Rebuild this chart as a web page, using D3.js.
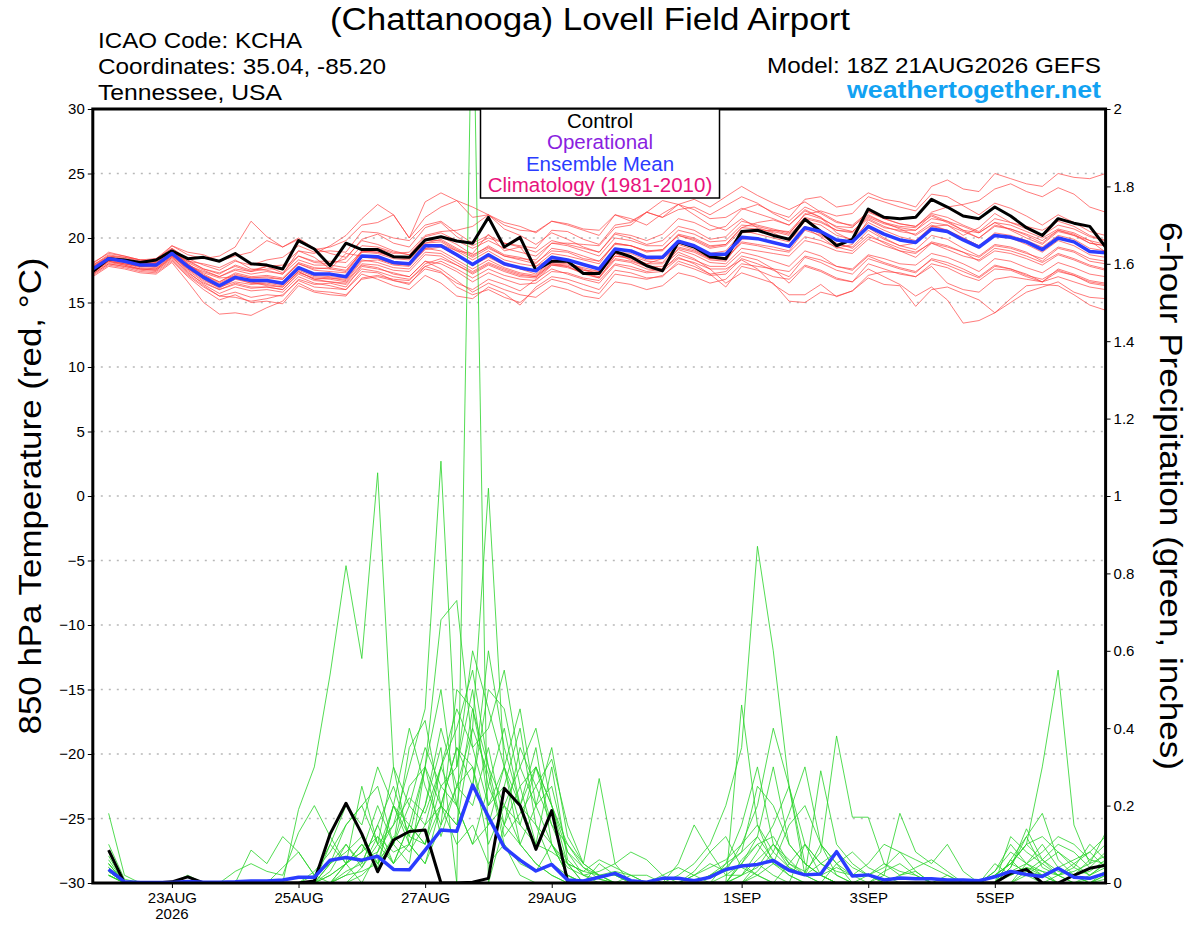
<!DOCTYPE html>
<html lang="en">
<head>
<meta charset="UTF-8">
<title>GEFS plume KCHA</title>
<script src="https://cdn.jsdelivr.net/npm/d3@7"></script>
<style>
  * { margin: 0; padding: 0; }
  body { background: #fff; }
  svg { display: block; font-family: "Liberation Sans", Arial, sans-serif; }
  .grid line { stroke: #b8b8b8; stroke-width: 1.4; stroke-dasharray: 2, 6; }
  .axis text { font-size: 15px; fill: #000; }
  .axis line { stroke: #000; stroke-width: 1; }
  .axis path { display: none; }
</style>
</head>
<body>
<div id="chart"></div>
<script>
// 850 hPa temperature, every 6 h from 18Z 21AUG
const tempControl = [17.4,18.4,18.3,18.1,18.3, 19.0,18.4,18.5,18.2,18.8, 18.0,17.9,17.6,19.8,19.15,
  17.85,19.6,19.1,19.1,18.55, 18.5,19.85,20.1,19.77,19.6, 21.6,19.3,20.05,17.5,18.2,
  18.2,17.25,17.25,18.95,18.55, 17.85,17.45,19.7,19.3,18.55, 18.4,20.5,20.6,20.2,19.9,
  21.45,20.5,19.4,19.9,22.25, 21.6,21.5,21.6,23.0,22.4, 21.7,21.5,22.4,21.7,20.8,
  20.2,21.5,21.15,20.9,19.3];
const tempMean = [17.6,18.4,18.2,17.9,17.9, 18.8,17.8,16.95,16.3,16.95, 16.7,16.7,16.5,17.7,17.2,
  17.2,17.0,18.6,18.55,18.1, 18.0,19.4,19.4,18.7,17.95, 18.7,18.0,17.7,17.45,18.5,
  18.3,17.95,17.6,19.15,19.0, 18.5,18.5,19.75,19.4,18.75, 18.75,20.05,19.95,19.65,19.35,
  20.8,20.5,19.85,19.7,20.9, 20.3,19.85,19.65,20.7,20.5, 19.85,19.3,20.2,20.05,19.7,
  19.1,20.0,19.7,18.95,18.85];
const tempMembers = [
  [17.9,18.6,18.5,18.2,18.4, 19.2,18.3,17.6,17.2,17.9, 17.5,17.8,17.3,18.6,18.1, 18.0,18.4,19.9,20.3,19.6, 19.3,20.8,21.2,20.1,19.4, 20.0,19.6,19.3,18.9,19.8, 19.5,19.2,18.9,20.4,20.2, 19.8,20.3,21.5,21.2,20.6, 20.9,22.2,22.6,22.0,21.6, 23.0,23.2,22.4,22.6,23.5, 23.0,22.8,22.4,24.0,24.5, 23.8,23.6,25.0,24.6,24.2, 24.0,25.0,24.7,24.6,25.0],
  [17.2,18.0,17.8,17.5,17.4, 18.3,17.1,16.2,15.5,15.8, 15.4,15.6,15.5,16.8,16.4, 16.5,16.2,17.8,17.6,17.3, 17.0,18.2,18.0,17.4,16.6, 17.3,16.8,16.4,16.5,17.4, 17.3,16.9,16.7,18.0,17.8, 17.4,17.6,18.5,18.0,17.2, 17.4,18.6,18.3,17.6,16.5, 17.8,17.4,16.8,16.6,17.6, 17.0,16.4,15.5,16.2,15.2, 13.4,13.6,14.2,15.3,16.3, 16.4,16.3,15.6,14.8,14.4],
  [17.0,17.8,17.6,17.3,17.2, 18.1,16.6,15.0,14.1,14.2, 14.0,14.6,15.1,16.5,15.9, 15.8,15.6,16.8,17.0,16.7, 16.4,17.8,18.2,17.6,16.9, 17.6,17.1,16.8,16.7,17.9, 17.8,17.2,16.9,18.6,18.5, 18.0,18.4,19.3,19.0,18.4, 18.5,19.6,19.4,19.1,18.9, 20.1,19.8,19.3,19.0,20.1, 19.7,19.2,18.9,19.6,19.1, 18.6,18.3,19.2,19.0,18.6, 18.1,18.8,18.4,17.9,17.6],
  [18.0,18.9,18.6,18.3,18.4, 19.4,18.7,18.4,18.6,19.3, 21.3,20.1,19.3,20.0,19.2, 18.8,18.5,19.8,19.5,19.0, 18.7,19.9,20.1,19.5,18.7, 19.3,18.6,18.3,18.0,19.2, 19.0,18.6,18.2,19.6,19.4, 18.9,19.1,20.2,19.8,19.2, 19.4,20.6,20.3,20.0,19.7, 21.3,21.0,20.2,19.9,21.2, 20.6,20.1,19.8,20.9,20.6, 20.0,19.4,20.4,20.2,19.8, 19.3,20.2,19.9,19.2,19.0],
  [17.7,18.5,18.3,18.0,18.1, 19.0,18.2,17.6,17.3,17.8, 17.4,17.8,17.9,19.0,18.8, 19.4,20.2,21.5,22.6,21.8, 20.0,22.8,23.5,22.9,21.6, 21.8,20.7,20.2,19.5,20.4, 19.9,19.3,18.9,20.3,20.0, 19.5,19.8,20.9,20.6,19.9, 20.1,21.3,21.0,20.7,20.4, 21.6,21.3,20.6,20.4,21.5, 20.9,20.5,20.3,21.2,21.0, 20.5,20.0,20.9,20.7,20.3, 19.8,20.6,20.2,19.6,19.4],
  [17.3,18.1,17.9,17.6,17.5, 18.5,17.4,16.4,15.7,16.2, 15.9,16.0,15.8,17.0,16.5, 16.3,16.0,17.2,16.8,16.3, 16.0,17.1,16.5,15.5,15.3, 16.2,15.7,14.8,16.2,17.0, 16.8,16.4,16.0,17.5,17.3, 16.9,17.0,18.2,17.8,17.2, 16.2,17.8,17.5,17.0,16.8, 17.9,17.5,16.9,16.6,18.0, 17.6,17.2,17.0,18.0,17.7, 17.1,16.7,17.6,17.5,17.0, 16.6,17.4,17.1,16.5,16.3],
  [17.8,18.6,18.4,18.1,18.0, 19.1,18.0,17.2,16.6,17.3, 17.0,17.1,16.9,18.1,17.7, 17.6,17.4,19.0,18.9,18.5, 18.4,19.8,19.8,19.1,18.5, 19.2,18.6,18.4,18.3,19.6, 19.6,19.5,19.4,20.8,21.0, 22.0,22.9,22.6,23.0,22.4, 23.2,24.0,23.3,22.7,22.2, 22.8,22.0,21.3,20.9,21.8, 21.2,20.7,20.2,21.0,20.6, 20.0,19.4,20.3,20.0,19.5, 18.9,19.8,19.4,18.7,18.5],
  [17.5,18.3,18.0,17.8,17.8, 18.7,17.9,17.3,16.9,17.0, 16.6,16.3,16.2,17.4,16.8, 16.9,16.7,18.2,18.3,17.9, 17.8,19.1,19.3,18.6,17.9, 18.5,17.9,17.6,17.2,18.2, 18.1,17.6,17.2,18.8,18.6, 18.2,18.1,19.5,19.1,18.4, 18.3,19.7,19.5,19.3,19.0, 20.6,20.2,19.5,19.3,20.6, 19.9,19.4,19.1,20.2,19.9, 19.2,18.6,19.5,19.3,18.9, 18.2,19.2,18.9,18.2,18.0],
  [17.6,18.4,18.1,17.8,17.9, 18.8,17.7,16.8,16.1,16.8, 16.5,16.6,16.4,17.6,17.1, 17.0,16.9,18.5,18.4,18.0, 17.9,19.2,19.0,18.3,17.6, 18.3,17.7,17.3,17.1,18.1, 18.0,17.7,17.4,18.9,18.8, 18.3,18.4,19.6,19.3,18.8, 19.0,20.4,20.5,20.6,20.5, 21.8,22.1,21.7,21.9,23.2, 22.8,22.4,22.1,23.4,23.2, 22.5,21.8,22.7,22.3,21.7, 21.0,21.8,21.2,20.5,20.2],
  [17.4,18.2,18.0,17.7,17.6, 18.6,17.5,16.6,16.0,16.5, 16.2,16.2,16.0,17.3,16.9, 16.8,16.6,18.0,17.9,17.5, 17.4,18.7,18.6,17.9,17.2, 17.9,17.4,17.0,16.9,17.9, 17.7,17.3,17.0,18.4,18.2, 17.8,17.8,18.9,18.4,17.6, 16.5,17.3,16.9,16.5,15.1, 15.0,15.8,15.5,15.9,16.9, 16.4,16.3,14.7,16.0,16.2, 15.7,15.2,14.2,15.0,15.8, 16.2,16.6,15.8,15.4,15.3],
  [18.1,18.8,18.6,18.3,18.2, 19.4,18.9,18.7,18.2,18.6, 18.9,19.8,19.3,19.9,19.1, 19.3,19.8,21.0,21.2,21.8, 20.0,21.6,22.4,22.9,22.4, 21.8,21.0,20.6,20.5,21.3, 21.0,20.6,20.2,21.8,21.3, 22.0,21.6,22.6,22.2,21.5, 21.6,22.3,21.9,21.5,21.0, 22.1,21.6,20.8,20.5,21.6, 21.1,20.8,20.6,21.5,21.3, 20.9,20.4,21.2,21.0,20.5, 20.0,20.7,20.4,19.8,19.5],
  [17.2,18.0,17.8,17.6,17.5, 18.4,17.2,16.3,15.5,15.4, 15.1,15.3,15.6,16.7,16.2, 16.1,16.0,17.4,17.3,16.7, 16.5,17.6,17.3,16.5,16.0, 16.8,16.4,15.9,16.8,17.6, 17.2,16.8,16.5,17.9,17.6, 17.3,17.4,18.4,18.1,17.6, 17.6,18.3,17.6,16.4,15.6, 15.6,16.4,15.45,15.9,17.1, 17.4,17.3,17.0,17.8,16.5, 16.0,15.8,16.8,17.0,16.8, 16.6,17.0,16.6,16.2,16.0],
  [17.9,18.7,18.5,18.3,18.2, 19.2,18.4,17.9,17.5,18.2, 17.9,18.3,18.5,19.4,18.9, 19.0,18.9,20.5,20.4,20.0, 19.8,21.0,21.3,20.4,19.6, 20.2,19.6,19.4,19.2,20.6, 20.5,19.9,19.5,21.0,21.2, 22.0,21.6,22.2,22.4,21.8, 22.5,23.2,22.7,21.9,21.3, 22.4,21.9,21.2,21.0,22.0, 21.5,21.1,20.9,21.9,21.6, 21.0,20.5,21.5,21.2,20.7, 20.2,21.0,20.7,20.1,19.8],
  [17.5,18.4,18.2,18.0,18.1, 18.9,18.2,18.0,17.7,18.3, 17.6,17.5,17.2,19.0,18.5, 17.6,18.8,18.6,18.4,18.0, 17.9,19.2,19.5,19.0,18.8, 20.3,19.0,19.3,17.8,18.4, 18.2,17.5,17.4,18.8,18.3, 17.8,17.6,19.2,18.9,18.3, 18.2,19.9,20.0,19.6,19.4, 20.8,20.1,19.2,19.5,21.4, 20.8,20.6,20.6,21.8,21.3, 20.6,20.4,21.2,20.6,20.0, 19.5,20.5,20.2,19.8,18.9],
  [17.6,18.3,18.1,17.9,17.8, 18.7,17.6,16.7,16.2,16.6, 16.4,16.5,16.3,17.5,17.0, 16.9,16.8,18.3,18.1,17.7, 17.6,18.9,18.8,18.1,17.4, 18.1,17.6,17.2,17.0,18.0, 17.8,17.3,16.9,18.3,18.1, 17.6,17.5,18.7,18.3,17.8, 17.8,18.9,18.6,18.2,17.8, 19.0,18.6,17.8,17.5,18.6, 18.1,17.7,17.4,18.3,17.9, 17.4,16.9,17.8,17.6,17.1, 16.8,17.5,17.1,16.6,16.4],
  [17.8,18.5,18.3,18.1,18.0, 19.0,18.0,17.1,16.5,17.1, 16.9,16.9,16.8,18.0,17.5, 17.4,17.3,18.9,18.8,18.4, 18.3,19.6,19.7,19.0,18.3, 19.0,18.3,18.0,17.8,18.8, 18.6,18.3,18.0,19.6,19.4, 19.0,19.0,20.3,20.0,19.4, 19.5,20.8,20.7,20.5,20.2, 21.5,21.2,20.6,20.5,21.7, 21.2,20.9,20.8,22.0,22.4, 22.6,22.9,23.8,24.2,23.6, 23.2,23.9,23.4,22.4,22.0],
  [17.3,18.2,17.9,17.6,17.6, 18.5,17.3,16.5,16.0,16.4, 16.1,16.2,16.0,17.2,16.7, 16.6,16.4,17.6,17.4,17.0, 16.8,17.8,17.4,16.2,15.6, 16.0,15.4,15.0,16.0,16.8, 16.5,16.0,15.7,17.2,17.0, 16.8,17.1,18.0,17.6,17.1, 17.2,18.4,18.0,17.5,17.0, 18.5,18.1,17.5,17.2,18.4, 18.0,17.6,17.3,18.4,18.1, 17.6,17.0,17.9,17.6,17.2, 16.6,17.6,17.2,16.7,16.5],
  [17.7,18.5,18.3,18.0,18.0, 18.9,17.9,17.4,17.0,17.6, 17.4,17.6,17.6,18.6,18.2, 18.2,18.1,19.4,19.3,18.9, 18.7,20.1,20.4,19.8,19.2, 19.8,19.2,18.9,18.6,19.6, 19.4,19.0,18.6,20.0,19.8, 19.4,19.4,20.6,20.3,19.7, 19.8,21.0,20.9,20.6,20.3, 21.9,21.5,20.9,20.8,22.1, 21.5,21.1,20.9,21.7,21.2, 20.6,20.0,21.0,20.7,20.2, 19.6,20.6,20.3,19.6,19.4],
  [17.6,18.4,18.2,17.9,18.0, 18.8,17.9,17.1,16.6,17.2, 16.9,17.0,16.8,18.0,17.6, 17.7,17.5,18.9,19.2,18.8, 18.9,20.2,20.5,20.6,20.9, 21.8,21.2,20.9,20.4,21.3, 21.1,20.7,20.6,21.8,21.5, 21.0,21.9,22.6,21.8,21.0, 20.6,21.5,20.8,20.4,19.8, 20.9,20.3,19.6,19.2,20.3, 19.6,19.0,18.5,19.6,19.3, 18.9,18.2,19.0,18.8,18.4, 17.9,18.7,18.3,17.8,17.5],
  [17.4,18.2,18.0,17.8,17.7, 18.6,17.6,16.9,16.4,16.9, 16.5,16.4,16.2,17.4,16.8, 16.6,16.5,17.9,17.7,17.2, 17.0,18.2,17.6,16.7,15.8, 16.5,16.0,15.6,15.4,16.3, 16.0,15.5,15.3,16.6,16.4, 16.0,16.3,17.3,17.0,16.5, 16.8,18.0,17.8,17.6,17.4, 18.6,18.3,17.8,17.6,18.7, 18.4,18.0,17.9,18.8,18.5, 18.0,17.4,18.4,18.2,17.7, 17.3,18.1,17.7,17.2,17.0],
  [17.7,18.4,18.3,18.0,17.9, 18.9,18.1,17.5,17.0,17.5, 17.2,17.4,17.2,18.3,17.9, 17.9,17.7,19.0,18.9,18.6, 18.5,19.6,19.9,19.2,18.6, 19.4,18.7,18.5,18.1,19.0, 18.9,18.4,18.2,19.5,19.4, 19.0,19.1,20.2,19.9,19.3, 19.5,20.8,21.2,21.4,21.0, 22.2,21.6,20.4,19.8,20.8, 20.0,19.4,19.6,20.9,21.0, 20.2,20.8,21.9,21.2,20.9, 20.6,21.3,20.9,20.2,19.8],
  [17.1,17.9,17.7,17.4,17.3, 18.2,17.0,16.0,15.2,15.6, 15.0,15.1,14.9,16.3,15.8, 15.6,15.5,16.9,17.1,16.8, 16.7,18.0,18.4,17.9,17.3, 18.0,17.5,17.1,17.0,18.0, 17.9,17.5,17.2,18.6,18.4, 18.0,18.0,19.1,18.7,18.1, 18.0,19.2,19.0,18.8,18.6, 19.8,19.5,19.0,18.8,19.9, 19.4,19.0,18.8,19.7,19.4, 18.9,18.5,19.4,19.2,18.8, 18.4,19.3,19.0,18.4,18.2]
];

// 6-hour precipitation (inches), every 6 h from 00Z 22AUG
const precipControl = [0.085,0,0,0,0.003,0.016,0,0, 0,0,0,0,0,0.005,0.127,0.206,
  0.127,0.029,0.111,0.133,0.137,0,0,0.002, 0.012,0.245,0.2,0.087,0.187,0.005,0,0,
  0,0,0,0,0,0,0,0, 0,0,0,0,0,0,0,0,
  0,0,0,0,0,0,0,0, 0,0.025,0.035,0,0,0.02,0.038,0.046];
const precipMean = [0.035,0.003,0.001,0.001,0.001,0.004,0.002,0.002, 0.003,0.005,0.005,0.008,0.015,0.015,0.059,0.066,
  0.059,0.069,0.035,0.034,0.085,0.137,0.134,0.253, 0.171,0.092,0.059,0.031,0.048,0.008,0.005,0.015,
  0.025,0.006,0.002,0.012,0.012,0.006,0.015,0.035, 0.044,0.048,0.058,0.033,0.021,0.023,0.081,0.018,
  0.021,0.008,0.013,0.011,0.011,0.008,0.008,0.006, 0.016,0.03,0.022,0.017,0.038,0.015,0.012,0.025];
const precipMembers = [
  [0.02,0,0,0,0,0,0,0, 0,0,0,0,0,0,0.05,0.1, 0.04,0.12,0.08,0.1,0.2,0.35,0,2.4, 0,0.15,0.1,0.05,0.02,0,0,0, 0,0,0,0,0,0,0.02,0.05, 0.08,0.12,0.06,0.02,0,0,0.05,0, 0,0,0,0,0,0,0,0, 0.02,0.05,0.1,0.06,0.03,0.02,0,0.01],
  [0.05,0,0,0,0,0,0,0, 0,0,0,0.04,0.08,0.02,0.1,0.05, 0,0.08,0.2,0.15,0.3,0.12,0.25,0.4, 1.02,0.3,0.2,0.35,0.1,0.02,0,0.05, 0.02,0,0,0,0,0.03,0.08,0.12, 0.04,0.02,0,0.05,0.1,0.02,0,0, 0,0.03,0.05,0.02,0,0,0,0, 0,0.06,0.12,0.04,0.02,0,0.02,0.05],
  [0.08,0,0,0,0,0,0,0, 0,0,0,0,0.19,0.3,0.54,0.82, 0.58,1.06,0.3,0.1,0.05,0.2,0.1,0.15, 0.05,0.1,0.02,0,0,0,0,0, 0,0,0,0,0,0,0,0, 0.05,0.02,0,0,0,0,0,0, 0,0,0,0,0,0,0,0, 0,0,0,0,0.02,0.05,0.08,0.04],
  [0.03,0,0,0,0,0,0,0, 0,0,0,0,0,0,0.05,0.15, 0.2,0.1,0.15,0.3,0.45,1.09,0.3,0.5, 0.2,0.25,0.4,0.15,0.1,0.05,0,0, 0,0.02,0,0,0,0,0,0.05, 0.15,0.3,0.1,0.05,0.02,0.1,0.02,0, 0,0,0.02,0.03,0,0,0,0, 0.03,0.1,0.05,0.02,0,0,0,0.02],
  [0.04,0,0,0,0,0,0,0, 0,0,0,0,0,0.02,0.05,0.08, 0.12,0.05,0.1,0.2,0.15,0.3,0.2,0.1, 0.25,0.4,0.2,0.3,0.15,0.05,0,0.02, 0,0,0,0,0.02,0.05,0.1,0.2, 0.35,0.87,0.6,0.25,0.05,0.02,0,0, 0.02,0,0,0,0,0,0,0, 0,0.02,0.04,0.02,0,0,0,0],
  [0.02,0,0,0,0,0,0,0, 0,0,0,0,0,0,0.02,0.05, 0.1,0.05,0.2,0.12,0.1,0.2,0.35,0.3, 0.15,0.2,0.1,0.05,0.02,0,0,0, 0,0,0,0,0,0,0,0.02, 0.05,0.1,0.12,0.05,0.03,0.08,0.38,0.17, 0.17,0.05,0.02,0.04,0.06,0.03,0,0, 0.02,0.05,0.1,0.3,0.55,0.15,0.05,0.13],
  [0.06,0,0,0,0,0.02,0,0, 0,0.085,0.05,0.12,0.08,0.02,0,0.05, 0.08,0.2,0.1,0.25,0.3,0.68,0.73,0.35, 0.4,0.55,0.3,0.2,0.25,0.08,0.02,0, 0,0,0,0,0,0,0,0, 0,0.05,0.02,0,0.1,0.05,0.02,0, 0,0,0,0,0,0.02,0,0, 0,0.04,0.14,0.06,0.02,0.03,0.05,0.07],
  [0.18,0.02,0,0,0,0,0,0, 0,0,0,0,0,0,0.1,0.2, 0.15,0.3,0.2,0.4,0.25,0.15,0.5,0.45, 0.3,0.2,0.3,0.4,0.2,0.1,0.05,0.27, 0.05,0,0,0,0,0.02,0.05,0.03, 0.1,0.2,0.4,0.25,0.02,0,0,0, 0,0,0,0,0,0,0,0, 0,0,0.02,0.05,0.08,0.04,0.02,0.05],
  [0.05,0,0,0,0,0,0,0, 0,0,0,0,0,0,0,0.05, 0.25,0.1,0.3,0.2,0.35,0.25,0.3,0.6, 0.45,0.3,0.15,0.1,0.08,0.05,0.03,0.06, 0.04,0.02,0,0,0,0,0,0, 0.02,0.08,0.15,0.25,0.1,0.05,0.03,0.02, 0.05,0.1,0.08,0.03,0,0,0,0, 0,0.12,0.08,0.05,0.02,0.04,0.1,0.06],
  [0.03,0,0,0,0,0,0,0, 0,0,0,0,0,0,0.03,0.1, 0.05,0.15,0.05,0.1,0.2,0.4,0.25,0.2, 0.35,0.15,0.25,0.1,0.3,0.06,0.02,0.01, 0,0,0,0.02,0.04,0.02,0,0, 0.06,0.1,0.05,0.03,0.02,0.29,0.1,0.05, 0.02,0.04,0.08,0.06,0.04,0.02,0,0, 0.03,0.08,0.05,0.03,0,0.02,0.06,0.1],
  [0.07,0,0,0,0,0,0,0, 0,0,0,0,0,0,0,0, 0.04,0.1,0.05,0.15,0.1,0.3,0.45,0.35, 0.2,0.3,0.1,0.2,0.35,0.12,0.05,0.02, 0.03,0.02,0.02,0,0,0,0.02,0.04, 0.08,0.25,0.2,0.1,0.05,0.02,0,0, 0,0.02,0.18,0.08,0.05,0.1,0.03,0, 0.02,0.05,0.1,0.12,0.08,0.05,0.02,0.04],
  [0.04,0,0,0,0,0,0,0, 0,0,0,0,0,0,0,0.02, 0.03,0.05,0.12,0.08,0.15,0.2,0.15,0.4, 0.28,0.1,0.05,0.03,0.1,0.02,0,0, 0,0,0,0,0.05,0.15,0.08,0.02, 0.02,0.04,0.1,0.06,0.02,0.05,0.08,0.04, 0.02,0,0,0,0,0,0,0, 0.05,0.02,0.04,0.03,0.02,0,0,0.02],
  [0.02,0,0,0,0,0,0,0, 0.03,0.05,0.03,0.02,0.13,0.2,0.12,0.05, 0.1,0.04,0.2,0.1,0.05,0.15,0.25,0.3, 0.1,0.2,0.15,0.3,0.2,0.05,0.03,0.02, 0,0,0,0,0,0,0,0, 0,0.02,0.05,0.15,0.2,0.1,0.05,0.02, 0.02,0.05,0.03,0.02,0,0,0,0, 0,0,0.03,0.06,0.1,0.08,0.04,0.08],
  [0.1,0.01,0,0,0,0,0,0, 0,0,0,0,0,0,0,0, 0.02,0.06,0.1,0.35,0.42,0.2,0.15,0.25, 0.6,0.35,0.2,0.15,0.05,0.02,0,0, 0,0,0,0,0,0,0,0, 0.05,0.12,0.3,0.1,0.05,0.02,0,0, 0,0,0,0,0,0,0,0, 0,0.06,0.02,0,0,0,0.01,0.03],
  [0.03,0,0,0,0,0,0,0, 0,0,0,0,0,0,0.02,0.05, 0.08,0.12,0.05,0.15,0.1,0.25,0.2,0.45, 0.25,0.15,0.35,0.25,0.15,0.1,0.04,0.01, 0,0,0,0,0,0,0,0, 0.46,0.15,0.05,0.02,0,0,0,0, 0,0,0,0,0,0,0,0, 0,0.04,0.12,0.18,0.06,0.02,0,0.03],
  [0.05,0,0,0,0,0,0,0, 0,0,0,0,0,0,0,0.03, 0.05,0.15,0.25,0.12,0.3,0.5,0.2,0.1, 0.15,0.3,0.45,0.2,0.1,0.04,0.02,0.03, 0.05,0.08,0.06,0.02,0,0,0,0, 0,0.03,0.08,0.18,0.3,0.1,0.05,0.08, 0.04,0.02,0,0,0,0,0,0, 0,0,0.05,0.08,0.12,0.1,0.06,0.05],
  [0.02,0,0,0,0,0,0,0, 0,0,0,0,0,0.03,0.08,0.15, 0.2,0.25,0.1,0.05,0.3,0.2,0.35,0.25, 0.5,0.45,0.25,0.3,0.2,0.08,0.04,0.02, 0,0,0,0,0,0,0,0, 0.02,0.06,0.1,0.04,0.02,0,0,0, 0,0,0,0,0,0,0,0, 0,0.03,0.05,0.1,0.04,0.02,0.03,0.06],
  [0.04,0,0,0,0,0,0,0, 0,0,0,0,0,0,0,0.02, 0.06,0.08,0.15,0.22,0.18,0.3,0.4,0.55, 0.3,0.12,0.18,0.25,0.32,0.15,0.05,0.02, 0.02,0,0,0,0,0.02,0.04,0.06, 0.1,0.15,0.08,0.04,0.02,0.02,0.04,0.02, 0,0,0,0,0,0,0,0, 0.02,0.05,0.03,0.02,0.04,0.06,0.08,0.12]
];

const tickLabels = ["23AUG", "25AUG", "27AUG", "29AUG", "1SEP", "3SEP", "5SEP"];
const tickDays = [23, 25, 27, 29, 32, 34, 36];   // day of August (32 = 1 Sep)
const tempTicks = [-30, -25, -20, -15, -10, -5, 0, 5, 10, 15, 20, 25, 30];
const precipTicks = [0, 0.2, 0.4, 0.6, 0.8, 1, 1.2, 1.4, 1.6, 1.8, 2];
const legendItems = ["Control", "Operational", "Ensemble Mean", "Climatology (1981-2010)"];
const legendColors = ["#000000", "#8a1ee0", "#2a3cff", "#e8127c"];
const infoLines = ["ICAO Code: KCHA", "Coordinates: 35.04, -85.20", "Tennessee, USA"];

const W = 1200, H = 927;
const L = 92.8, R = 1105.6, T = 109, B = 883;

const svg = d3.select("#chart").append("svg")
  .attr("width", W).attr("height", H);

const x = d3.scaleUtc()
  .domain([new Date(Date.UTC(2026, 7, 21, 18)), new Date(Date.UTC(2026, 8, 6, 18))])
  .range([L, R]);
const yT = d3.scaleLinear().domain([-30, 30]).range([B, T]);
const yP = d3.scaleLinear().domain([0, 2]).range([B, T]);

const tempTimes = tempControl.map((d, i) => d3.utcHour.offset(new Date(Date.UTC(2026, 7, 21, 18)), 6 * i));
const precipTimes = precipControl.map((d, i) => d3.utcHour.offset(new Date(Date.UTC(2026, 7, 22, 0)), 6 * i));

svg.append("clipPath").attr("id", "plot")
  .append("rect").attr("x", L).attr("y", T).attr("width", R - L).attr("height", B - T);

// dotted grid on temperature ticks
svg.append("g").attr("class", "grid")
  .selectAll("line").data(tempTicks.slice(1, -1)).enter().append("line")
  .attr("x1", L).attr("x2", R)
  .attr("y1", d => yT(d)).attr("y2", d => yT(d));

const tLine = d3.line().x((d, i) => x(tempTimes[i])).y(d => yT(d));
const pLine = d3.line().x((d, i) => x(precipTimes[i])).y(d => yP(d));

const plot = svg.append("g").attr("clip-path", "url(#plot)");

plot.selectAll("path.tm").data(tempMembers).enter().append("path")
  .attr("class", "tm")
  .attr("d", tLine)
  .attr("fill", "none")
  .attr("stroke", "#ff3c3c")
  .attr("stroke-opacity", 0.75)
  .attr("stroke-width", 0.9);

plot.selectAll("path.pm").data(precipMembers).enter().append("path")
  .attr("class", "pm")
  .attr("d", pLine)
  .attr("fill", "none")
  .attr("stroke", "#2ad42a")
  .attr("stroke-opacity", 0.9)
  .attr("stroke-width", 0.9);

plot.append("path").datum(tempControl).attr("d", tLine)
  .attr("fill", "none").attr("stroke", "#000").attr("stroke-width", 3).attr("stroke-linejoin", "round");
plot.append("path").datum(tempMean).attr("d", tLine)
  .attr("fill", "none").attr("stroke", "#2a3cff").attr("stroke-width", 3.5).attr("stroke-linejoin", "round");
plot.append("path").datum(precipControl).attr("d", pLine)
  .attr("fill", "none").attr("stroke", "#000").attr("stroke-width", 3).attr("stroke-linejoin", "round");
plot.append("path").datum(precipMean).attr("d", pLine)
  .attr("fill", "none").attr("stroke", "#2a3cff").attr("stroke-width", 3.5).attr("stroke-linejoin", "round");

// axes
svg.append("g").attr("class", "axis")
  .attr("transform", `translate(${L},0)`)
  .call(d3.axisLeft(yT).tickValues(tempTicks).tickSize(5).tickPadding(3));

svg.append("g").attr("class", "axis")
  .attr("transform", `translate(${R},0)`)
  .call(d3.axisRight(yP).tickValues(precipTicks).tickSize(5).tickPadding(3).tickFormat(d3.format("~g")));

const tickDates = tickDays.map(d => new Date(Date.UTC(2026, 7, d)));
const xAxis = svg.append("g").attr("class", "axis")
  .attr("transform", `translate(0,${B})`)
  .call(d3.axisBottom(x).tickValues(tickDates).tickSize(5).tickPadding(4)
    .tickFormat((d, i) => tickLabels[i]));
xAxis.append("text")
  .attr("x", x(tickDates[0])).attr("y", 36)
  .attr("text-anchor", "middle")
  .text("2026");

// frame
svg.append("rect")
  .attr("x", L).attr("y", T).attr("width", R - L).attr("height", B - T)
  .attr("fill", "none").attr("stroke", "#000").attr("stroke-width", 3);

// legend
const lg = svg.append("g");
lg.append("rect")
  .attr("x", 480.5).attr("y", T).attr("width", 239).attr("height", 89)
  .attr("fill", "#fff").attr("stroke", "#000").attr("stroke-width", 1.5);
lg.selectAll("text").data(legendItems).enter().append("text")
  .attr("x", 600).attr("y", (d, i) => 127.5 + i * 21.5)
  .attr("text-anchor", "middle")
  .attr("font-size", 20.5)
  .attr("fill", (d, i) => legendColors[i])
  .text(d => d);

// titles (ref font is wider than Liberation Sans, so stretch to its widths)
svg.append("text").attr("x", 590).attr("y", 30).attr("text-anchor", "middle")
  .attr("font-size", 31).attr("textLength", 520).attr("lengthAdjust", "spacingAndGlyphs")
  .text("(Chattanooga) Lovell Field Airport");

const infoWidths = [204, 288, 184];
svg.selectAll("text.info").data(infoLines).enter().append("text")
  .attr("class", "info")
  .attr("x", 98).attr("y", (d, i) => 48 + i * 26)
  .attr("font-size", 22)
  .attr("textLength", (d, i) => infoWidths[i]).attr("lengthAdjust", "spacingAndGlyphs")
  .text(d => d);

svg.append("text").attr("x", 1101).attr("y", 73).attr("text-anchor", "end")
  .attr("font-size", 22).attr("textLength", 334).attr("lengthAdjust", "spacingAndGlyphs")
  .text("Model: 18Z 21AUG2026 GEFS");
svg.append("text").attr("x", 1101).attr("y", 98).attr("text-anchor", "end")
  .attr("font-size", 24).attr("font-weight", "bold").attr("fill", "#12a2f2")
  .attr("textLength", 254).attr("lengthAdjust", "spacingAndGlyphs")
  .text("weathertogether.net");

svg.append("text")
  .attr("transform", `translate(41,${(T + B) / 2}) rotate(-90)`)
  .attr("text-anchor", "middle").attr("font-size", 31)
  .attr("textLength", 477).attr("lengthAdjust", "spacingAndGlyphs")
  .text("850 hPa Temperature (red, °C)");
svg.append("text")
  .attr("transform", `translate(1160,${(T + B) / 2}) rotate(90)`)
  .attr("text-anchor", "middle").attr("font-size", 31)
  .attr("textLength", 548).attr("lengthAdjust", "spacingAndGlyphs")
  .text("6-hour Precipitation (green, inches)");
</script>
</body>
</html>
